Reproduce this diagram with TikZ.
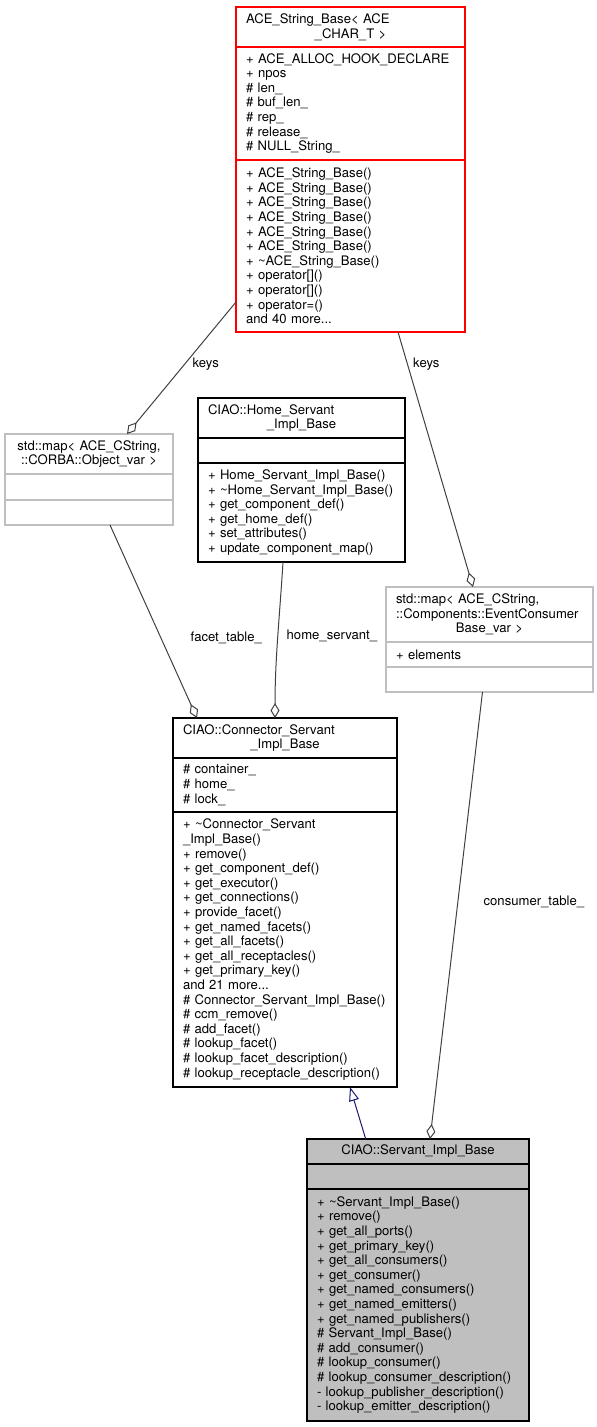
\documentclass[tikz,border=0pt]{standalone}
\usepackage{fontspec}
\setmainfont{TeX Gyre Heros}
\usetikzlibrary{arrows.meta,calc,positioning}
\definecolor{edgegray}{HTML}{404040}
\definecolor{boxgray}{HTML}{BFBFBF}
\definecolor{linegray}{HTML}{BFBFBF}
\definecolor{inhblue}{HTML}{191970}
\newcommand\lline[1]{\makebox[\hsize][l]{#1}}

\begin{document}
\begin{tikzpicture}[x=1pt, y=-1pt,
    every node/.style={font=\fontsize{13.1}{14.6}\selectfont},
    part/.style={draw=black, line width=1.2pt, anchor=north west, outer sep=0pt, inner xsep=10pt, inner ysep=0pt, align=left},
    redpart/.style={part, draw=red},
    graypart/.style={part, draw=linegray},
    selfpart/.style={part, fill=boxgray},
    agg/.style={draw=edgegray, line width=1pt, -{Diamond[open, length=15pt, width=9pt]}},
    inh/.style={draw=inhblue, line width=1pt, -{Triangle[open, length=14pt, width=10pt]}}]
    \useasboundingbox (0,0) rectangle (597,1427);
    \node[redpart, text width=209pt, minimum height=40pt, align=center] (acetitle) at (236,7) {\lline{ACE\_String\_Base< ACE}\\\_CHAR\_T >};
    \node[redpart, text width=209pt, minimum height=113pt] (aceattr) at (acetitle.south west) {+ ACE\_ALLOC\_HOOK\_DECLARE\\+ npos\\\# len\_\\\# buf\_len\_\\\# rep\_\\\# release\_\\\# NULL\_String\_};
    \node[redpart, text width=209pt, minimum height=172pt] (acemeth) at (aceattr.south west) {+ ACE\_String\_Base()\\+ ACE\_String\_Base()\\+ ACE\_String\_Base()\\+ ACE\_String\_Base()\\+ ACE\_String\_Base()\\+ ACE\_String\_Base()\\+ \textasciitilde ACE\_String\_Base()\\+ operator[]()\\+ operator[]()\\+ operator=()\\and 40 more...};
    \node[graypart, text width=148pt, minimum height=40pt, align=center] (corbatitle) at (5,434) {std::map< ACE\_CString,\\::CORBA::Object\_var >};
    \node[graypart, text width=148pt, minimum height=26pt] (corbaattr) at (corbatitle.south west) {};
    \node[graypart, text width=148pt, minimum height=25pt] (corbameth) at (corbaattr.south west) {};
    \node[part, text width=187pt, minimum height=40pt, align=center] (hometitle) at (198,398) {\lline{CIAO::Home\_Servant}\\\_Impl\_Base};
    \node[part, text width=187pt, minimum height=25pt] (homeattr) at (hometitle.south west) {};
    \node[part, text width=187pt, minimum height=99pt] (homemeth) at (homeattr.south west) {+ Home\_Servant\_Impl\_Base()\\+ \textasciitilde Home\_Servant\_Impl\_Base()\\+ get\_component\_def()\\+ get\_home\_def()\\+ set\_attributes()\\+ update\_component\_map()};
    \node[graypart, text width=187pt, minimum height=55pt, align=center] (ecmtitle) at (386,587) {\lline{std::map< ACE\_CString,}\\\lline{::Components::EventConsumer}\\Base\_var >};
    \node[graypart, text width=187pt, minimum height=25pt] (ecmattr) at (ecmtitle.south west) {+ elements};
    \node[graypart, text width=187pt, minimum height=25pt] (ecmmeth) at (ecmattr.south west) {};
    \node[part, text width=204pt, minimum height=40pt, align=center] (cstitle) at (173,718) {\lline{CIAO::Connector\_Servant}\\\_Impl\_Base};
    \node[part, text width=204pt, minimum height=54pt] (csattr) at (cstitle.south west) {\# container\_\\\# home\_\\\# lock\_};
    \node[part, text width=204pt, minimum height=275pt] (csmeth) at (csattr.south west) {+ \textasciitilde Connector\_Servant\\\_Impl\_Base()\\+ remove()\\+ get\_component\_def()\\+ get\_executor()\\+ get\_connections()\\+ provide\_facet()\\+ get\_named\_facets()\\+ get\_all\_facets()\\+ get\_all\_receptacles()\\+ get\_primary\_key()\\and 21 more...\\\# Connector\_Servant\_Impl\_Base()\\\# ccm\_remove()\\\# add\_facet()\\\# lookup\_facet()\\\# lookup\_facet\_description()\\\# lookup\_receptacle\_description()};
    \node[selfpart, text width=202pt, minimum height=25pt, align=center] (sibtitle) at (307,1139) {CIAO::Servant\_Impl\_Base};
    \node[selfpart, text width=202pt, minimum height=25pt] (sibattr) at (sibtitle.south west) {};
    \node[selfpart, text width=202pt, minimum height=232pt] (sibmeth) at (sibattr.south west) {+ \textasciitilde Servant\_Impl\_Base()\\+ remove()\\+ get\_all\_ports()\\+ get\_primary\_key()\\+ get\_all\_consumers()\\+ get\_consumer()\\+ get\_named\_consumers()\\+ get\_named\_emitters()\\+ get\_named\_publishers()\\\# Servant\_Impl\_Base()\\\# add\_consumer()\\\# lookup\_consumer()\\\# lookup\_consumer\_description()\\- lookup\_publisher\_description()\\- lookup\_emitter\_description()};
    \draw[agg] ([yshift=30pt]acemeth.south west) -- node[pos=0.47, right=4pt] {keys} ([xshift=38pt]corbatitle.north);
    \draw[agg] ([xshift=47.5pt]acemeth.south) -- node[pos=0.125, right=2pt] {keys} ([xshift=-16.5pt]ecmtitle.north);
    \draw[agg] ([xshift=21pt]corbameth.south) -- node[pos=0.585, right=26pt] {facet\_table\_} ([xshift=-88pt]cstitle.north);
    \draw[agg] ([xshift=-18.5pt]homemeth.south) .. controls +(-3,50) and +(0,-60) .. node[pos=0.5, right=5pt] {home\_servant\_} ([xshift=-10pt]cstitle.north);
    \draw[agg] ([xshift=-7pt]ecmmeth.south) -- node[pos=0.47, right=22pt] {consumer\_table\_} ([xshift=12pt]sibtitle.north);
    \draw[inh] ([xshift=-52.3pt]sibtitle.north) -- ([xshift=65pt]csmeth.south);
\end{tikzpicture}
\end{document}
